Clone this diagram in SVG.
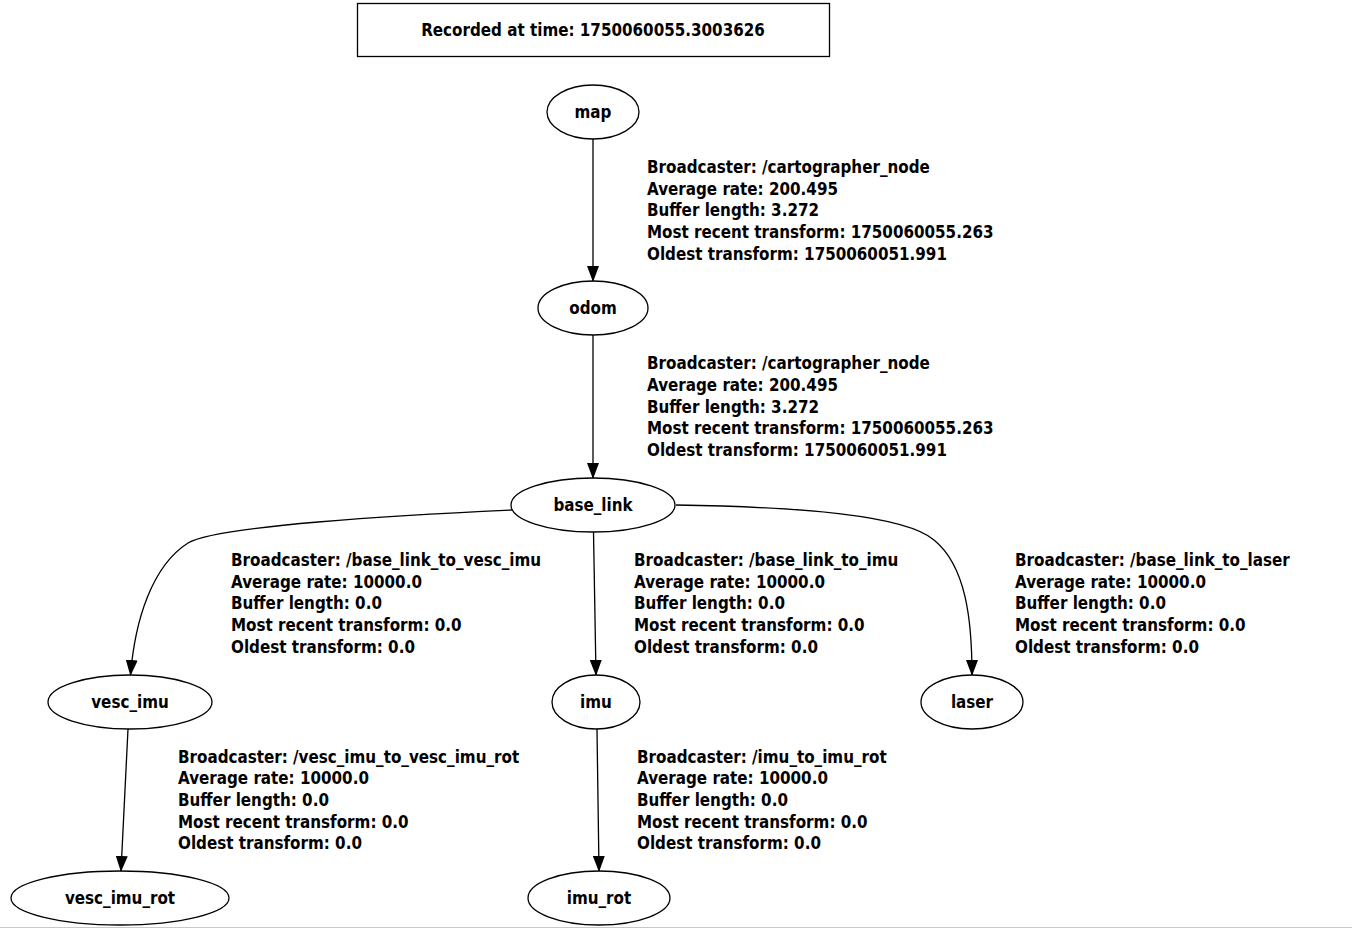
<svg xmlns="http://www.w3.org/2000/svg" width="1352" height="929" viewBox="0 0 1352 929">
  <style>
    text { font-family: "DejaVu Sans Condensed", "DejaVu Sans", sans-serif; font-stretch: condensed; font-weight: bold; font-size: 16.85px; fill: #000; }
    .node ellipse { fill: none; stroke: #000; stroke-width: 1.3; }
    .node text { text-anchor: middle; }
    .edge { fill: none; stroke: #000; stroke-width: 1.3; marker-end: url(#arrow); }
    .lbl text { text-anchor: start; }
  </style>
  <defs>
    <marker id="arrow" viewBox="0 0 16 12" refX="15" refY="6" markerWidth="16" markerHeight="12" markerUnits="userSpaceOnUse" orient="auto">
      <path d="M0,0 L16,6 L0,12 Z" fill="#000"/>
    </marker>
  </defs>
  <rect width="1352" height="929" fill="#fff"/>

  <!-- timestamp header -->
  <g id="header">
    <rect x="357.5" y="3.5" width="472" height="53" fill="none" stroke="#000" stroke-width="1.3"/>
    <text x="593" y="36" text-anchor="middle">Recorded at time: 1750060055.3003626</text>
  </g>

  <!-- connectors -->
  <g id="connectors">
    <path class="edge" d="M593,139 L593,281"/>
    <path class="edge" d="M593,335 L593,478"/>
    <path class="edge" d="M512,510 C400,515 215,526 188,543 C152,566 135,620 130.5,675"/>
    <path class="edge" d="M593.5,532 L596,675"/>
    <path class="edge" d="M676,505 C800,507 905,515 934,540 C966,566 972,620 972,675"/>
    <path class="edge" d="M128,729 L121,871"/>
    <path class="edge" d="M597,729 L599,871"/>
  </g>

  <!-- connector labels -->
  <g id="labels" class="lbl">
    <text x="647" y="173">Broadcaster: /cartographer_node</text>
    <text x="647" y="195">Average rate: 200.495</text>
    <text x="647" y="216">Buffer length: 3.272</text>
    <text x="647" y="238">Most recent transform: 1750060055.263</text>
    <text x="647" y="260">Oldest transform: 1750060051.991</text>

    <text x="647" y="369">Broadcaster: /cartographer_node</text>
    <text x="647" y="391">Average rate: 200.495</text>
    <text x="647" y="413">Buffer length: 3.272</text>
    <text x="647" y="434">Most recent transform: 1750060055.263</text>
    <text x="647" y="456">Oldest transform: 1750060051.991</text>

    <text x="231" y="566">Broadcaster: /base_link_to_vesc_imu</text>
    <text x="231" y="588">Average rate: 10000.0</text>
    <text x="231" y="609">Buffer length: 0.0</text>
    <text x="231" y="631">Most recent transform: 0.0</text>
    <text x="231" y="653">Oldest transform: 0.0</text>

    <text x="634" y="566">Broadcaster: /base_link_to_imu</text>
    <text x="634" y="588">Average rate: 10000.0</text>
    <text x="634" y="609">Buffer length: 0.0</text>
    <text x="634" y="631">Most recent transform: 0.0</text>
    <text x="634" y="653">Oldest transform: 0.0</text>

    <text x="1015" y="566">Broadcaster: /base_link_to_laser</text>
    <text x="1015" y="588">Average rate: 10000.0</text>
    <text x="1015" y="609">Buffer length: 0.0</text>
    <text x="1015" y="631">Most recent transform: 0.0</text>
    <text x="1015" y="653">Oldest transform: 0.0</text>

    <text x="178" y="763">Broadcaster: /vesc_imu_to_vesc_imu_rot</text>
    <text x="178" y="784">Average rate: 10000.0</text>
    <text x="178" y="806">Buffer length: 0.0</text>
    <text x="178" y="828">Most recent transform: 0.0</text>
    <text x="178" y="849">Oldest transform: 0.0</text>

    <text x="637" y="763">Broadcaster: /imu_to_imu_rot</text>
    <text x="637" y="784">Average rate: 10000.0</text>
    <text x="637" y="806">Buffer length: 0.0</text>
    <text x="637" y="828">Most recent transform: 0.0</text>
    <text x="637" y="849">Oldest transform: 0.0</text>
  </g>

  <!-- frames -->
  <g id="map" class="node"><ellipse cx="593" cy="112" rx="46" ry="27"/><text x="593" y="118">map</text></g>
  <g id="odom" class="node"><ellipse cx="593" cy="308" rx="55" ry="27"/><text x="593" y="314">odom</text></g>
  <g id="base_link" class="node"><ellipse cx="593" cy="505" rx="82" ry="27"/><text x="593" y="511">base_link</text></g>
  <g id="vesc_imu" class="node"><ellipse cx="130" cy="702" rx="82" ry="27"/><text x="130" y="708">vesc_imu</text></g>
  <g id="imu" class="node"><ellipse cx="596" cy="702" rx="44" ry="27"/><text x="596" y="708">imu</text></g>
  <g id="laser" class="node"><ellipse cx="972" cy="702" rx="51" ry="27"/><text x="972" y="708">laser</text></g>
  <g id="vesc_imu_rot" class="node"><ellipse cx="120" cy="898" rx="109" ry="27"/><text x="120" y="904">vesc_imu_rot</text></g>
  <g id="imu_rot" class="node"><ellipse cx="599" cy="898" rx="71" ry="27"/><text x="599" y="904">imu_rot</text></g>

  <line x1="0" y1="927.5" x2="1352" y2="927.5" stroke="#c8c8c8" stroke-width="1"/>
</svg>
